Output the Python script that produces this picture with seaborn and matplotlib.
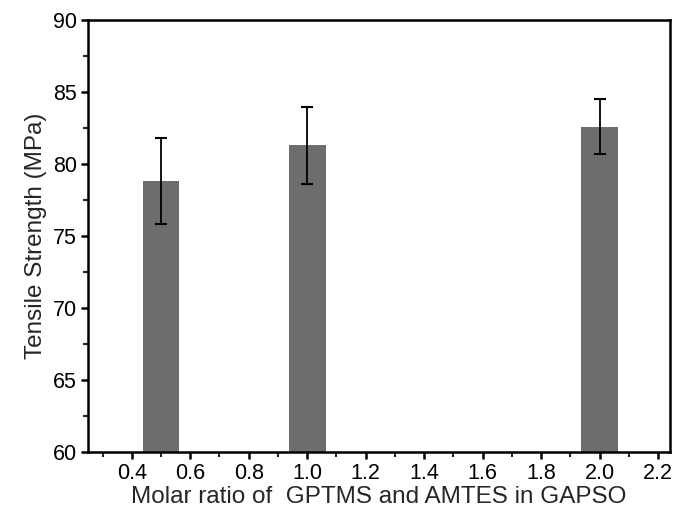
import numpy as np
import pandas as pd
import seaborn as sns
import matplotlib.pyplot as plt
from matplotlib.ticker import MultipleLocator

# values
ratios = [0.5, 1.0, 2.0]
strength = [78.85, 81.3, 82.6]
strength_err = [3.0, 2.7, 1.9]

sns.set_style("ticks")
plt.rcParams['font.family'] = ['Liberation Sans', 'DejaVu Sans']

df = pd.DataFrame({"ratio": ratios, "strength": strength})

fig = plt.figure(figsize=(6.76, 5.18), dpi=100)
ax = fig.add_axes([0.130, 0.127, 0.861, 0.834])

sns.barplot(data=df, x="ratio", y="strength", native_scale=True, width=0.25,
            color="#6d6d6d", saturation=1, errorbar=None, linewidth=0, ax=ax)
ax.errorbar(ratios, strength, yerr=strength_err, fmt="none", ecolor="black",
            elinewidth=1.3, capsize=4, capthick=1.5)

ax.set_xlim(0.25, 2.24)
ax.set_ylim(60, 90)
ax.xaxis.set_major_locator(MultipleLocator(0.2))
ax.xaxis.set_minor_locator(MultipleLocator(0.1))
ax.yaxis.set_major_locator(MultipleLocator(5))
ax.yaxis.set_minor_locator(MultipleLocator(2.5))
ax.xaxis.set_major_formatter(plt.FormatStrFormatter("%.1f"))
ax.yaxis.set_major_formatter(plt.FormatStrFormatter("%d"))

ax.tick_params(which="major", direction="out", length=5, width=1.8, labelsize=15.5,
               colors="black", pad=3)
ax.tick_params(which="minor", direction="out", length=3.5, width=1.5)
for s in ax.spines.values():
    s.set_visible(True)
    s.set_linewidth(1.8)
    s.set_color("black")

ax.set_xlabel("Molar ratio of  GPTMS and AMTES in GAPSO", fontsize=17.5, labelpad=1)
ax.set_ylabel("Tensile Strength (MPa)", fontsize=17.5, labelpad=4)

fig.savefig("out.png", dpi=100)
